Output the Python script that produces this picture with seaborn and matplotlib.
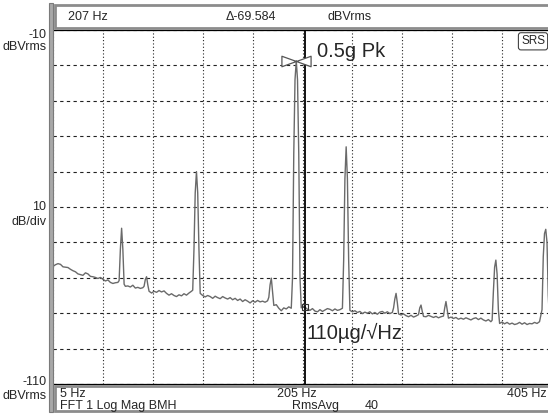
import numpy as np
import matplotlib
matplotlib.use("Agg")
import matplotlib.pyplot as plt
from matplotlib.patches import Rectangle
from matplotlib.path import Path
import seaborn as sns

# spectrum trace (Hz, dBVrms)
freq_hz = [5, 7, 9, 11, 13, 15, 17, 19, 21, 23, 25, 27, 29, 31, 33, 35, 37, 39, 41, 43,
           45, 47, 49, 51, 53, 55, 57, 58, 59, 60, 61, 62, 63, 65, 67, 69, 71, 73, 75, 77,
           78, 79, 80, 81, 82, 84, 86, 88, 90, 92, 94, 96, 98, 100, 102, 104, 106, 108, 110, 112,
           114, 116, 117, 118, 119, 120, 121, 122, 123, 125, 127, 129, 131, 133, 135, 137, 139, 141, 143, 145,
           147, 149, 151, 153, 155, 157, 159, 161, 163, 165, 167, 169, 171, 173, 175, 177, 178, 179, 180, 181,
           182, 184, 186, 188, 190, 192, 194, 196, 197, 198, 199, 200, 201, 202, 203, 204, 205, 207, 209, 211,
           213, 215, 217, 219, 221, 223, 225, 227, 229, 231, 233, 235, 237, 238, 239, 240, 241, 242, 243, 245,
           247, 249, 251, 253, 255, 257, 259, 261, 263, 265, 267, 269, 271, 273, 275, 277, 278, 279, 280, 281,
           282, 284, 286, 288, 290, 292, 294, 296, 298, 299, 300, 301, 302, 304, 306, 308, 310, 312, 314, 316,
           318, 319, 320, 321, 322, 324, 326, 328, 330, 332, 334, 336, 338, 340, 342, 344, 346, 348, 350, 352,
           354, 356, 357, 358, 359, 360, 361, 362, 363, 365, 367, 369, 371, 373, 375, 377, 379, 381, 383, 385,
           387, 389, 391, 393, 395, 397, 398, 399, 400, 401, 402, 403, 405]
level_db = [-76.8, -76.3, -76.0, -76.2, -76.9, -77.0, -77.1, -77.6, -78.0, -78.3, -78.9, -79.1, -79.3, -78.6, -78.9, -79.6, -79.7, -79.9, -80.2, -79.9,
            -80.4, -80.9, -80.6, -81.3, -81.6, -81.4, -81.3, -80.8, -72.0, -66.0, -72.0, -81.8, -82.4, -82.3, -82.6, -82.1, -82.9, -82.7, -83.0, -82.8,
            -82.4, -80.5, -79.7, -82.0, -83.8, -84.3, -83.8, -84.1, -83.6, -84.0, -83.7, -84.4, -84.9, -84.5, -85.0, -85.3, -84.8, -85.1, -84.5, -84.9,
            -84.3, -83.8, -83.5, -72.0, -56.0, -50.0, -56.0, -72.0, -84.4, -85.0, -85.4, -85.0, -85.3, -85.8, -85.2, -85.6, -85.9, -85.3, -85.7, -86.0,
            -85.6, -86.2, -85.8, -86.4, -86.0, -86.7, -86.2, -86.6, -87.1, -86.5, -86.9, -86.4, -86.8, -86.6, -86.9, -86.5, -85.5, -82.0, -80.1, -84.0,
            -87.8, -87.6, -88.6, -89.3, -88.5, -88.8, -88.2, -88.6, -80.0, -45.0, -24.0, -18.7, -24.0, -45.0, -80.0, -88.5, -88.0, -88.3, -88.9, -89.2,
            -88.7, -89.4, -89.6, -89.0, -89.5, -89.1, -88.7, -88.9, -89.3, -88.8, -89.2, -89.0, -88.6, -75.0, -52.0, -43.0, -52.0, -75.0, -89.2, -89.6,
            -89.3, -89.8, -89.5, -90.1, -89.7, -90.0, -89.6, -90.2, -89.8, -90.3, -89.7, -89.5, -90.0, -89.6, -90.1, -89.8, -88.5, -86.0, -84.4, -87.0,
            -90.2, -90.5, -90.2, -90.7, -91.0, -90.6, -91.1, -90.8, -90.4, -88.5, -87.7, -89.5, -90.9, -91.0, -90.6, -90.9, -91.2, -90.9, -91.3, -91.0,
            -90.8, -88.5, -86.7, -89.0, -91.4, -91.1, -91.5, -91.2, -91.7, -91.4, -91.7, -91.3, -91.6, -91.9, -91.5, -91.3, -91.8, -91.4, -91.9, -92.2,
            -91.8, -92.4, -92.0, -84.0, -77.0, -75.0, -79.0, -89.0, -92.9, -92.5, -93.0, -92.6, -93.1, -92.8, -93.2, -93.0, -92.6, -93.1, -92.7, -93.2,
            -92.9, -93.0, -92.6, -92.9, -92.4, -89.0, -74.0, -67.5, -66.3, -70.0, -85.0, -92.0, -92.5]

peak_hz, peak_db = 200, -18.7
marker_hz, marker_db = 207, -88.3
x_ticks = [5, 45, 85, 125, 165, 205, 245, 285, 325, 365, 405]
y_ticks = [-10, -20, -30, -40, -50, -60, -70, -80, -90, -100, -110]

W, H = 548, 418
sns.set_style("white")
plt.rcParams['font.family'] = ['Liberation Sans', 'DejaVu Sans']

fig = plt.figure(figsize=(W / 100, H / 100), dpi=100)


def fx(px):
    return px / W


def fy(py):
    return 1 - py / H


ax = fig.add_axes([fx(53), fy(384), fx(552) - fx(53), fy(30) - fy(384)])
sns.lineplot(x=freq_hz, y=level_db, ax=ax, color='#6a6a6a', lw=1.0)

ax.axvline(marker_hz, color='black', lw=1.3)

bowtie = Path([(-1, 0.36), (1, -0.36), (1, 0.36), (-1, -0.36), (-1, 0.36)],
              [Path.MOVETO, Path.LINETO, Path.LINETO, Path.LINETO, Path.CLOSEPOLY])
ax.plot([peak_hz], [peak_db], marker=bowtie, ms=21, mfc='white', mec='#555555', mew=0.9)
ax.plot([marker_hz], [marker_db], marker='s', ms=4.5, mfc='none', mec='#333333', mew=0.8)

ax.set_xlim(x_ticks[0], x_ticks[-1])
ax.set_ylim(y_ticks[-1], y_ticks[0])
ax.set_xticks(x_ticks)
ax.set_yticks(y_ticks)
ax.set_xticklabels([])
ax.set_yticklabels([])
ax.tick_params(length=0)
ax.xaxis.grid(True, color='#222222', lw=0.8, ls=(0, (1, 2)))
ax.yaxis.grid(True, color='#222222', lw=0.8, ls=(0, (3, 3)))
for s in ['top', 'bottom', 'right']:
    ax.spines[s].set_color('black')
    ax.spines[s].set_linewidth(0.9)
ax.spines['left'].set_visible(False)

ax.text(217, -16.2, '0.5g Pk', fontsize=14.5, ha='left', va='center')
ax.text(208, -95.6, '110\u00b5g/\u221aHz', fontsize=14.5, ha='left', va='center')
ax.text(0.986, 0.985, 'SRS', transform=ax.transAxes, fontsize=8.5, ha='right', va='top',
        bbox=dict(boxstyle='round,pad=0.22', fc='white', ec='#444444', lw=0.8))

# left frame bar
fig.add_artist(Rectangle((fx(49), fy(412)), fx(4), fy(3) - fy(412), transform=fig.transFigure,
                         fc='#a8a8a8', ec='#7a7a7a', lw=0.8))

# header and footer boxes
for top, bot in [(5, 28), (386, 411)]:
    fig.add_artist(Rectangle((fx(55), fy(bot)), fx(W + 5) - fx(55), fy(top) - fy(bot),
                             transform=fig.transFigure, fc='white', ec='#8c8c8c', lw=2))

fs = 9
fig.text(fx(68), fy(16.5), '207 Hz', fontsize=fs, va='center')
fig.text(fx(226), fy(16.5), '\u0394-69.584', fontsize=fs, va='center')
fig.text(fx(327), fy(16.5), 'dBVrms', fontsize=fs, va='center')

fig.text(fx(60), fy(394), '5 Hz', fontsize=fs, va='center')
fig.text(fx(277), fy(394), '205 Hz', fontsize=fs, va='center')
fig.text(fx(547), fy(394), '405 Hz', fontsize=fs, va='center', ha='right')
fig.text(fx(60), fy(406), 'FFT 1 Log Mag BMH', fontsize=fs, va='center')
fig.text(fx(292), fy(406), 'RmsAvg', fontsize=fs, va='center')
fig.text(fx(365), fy(406), '40', fontsize=fs, va='center')

for y, s in [(35, '-10'), (47, 'dBVrms'), (207, '10'), (222, 'dB/div'), (382, '-110'), (396, 'dBVrms')]:
    fig.text(fx(46.5), fy(y), s, fontsize=fs, va='center', ha='right')

fig.savefig('out.png', dpi=100, facecolor='white')
